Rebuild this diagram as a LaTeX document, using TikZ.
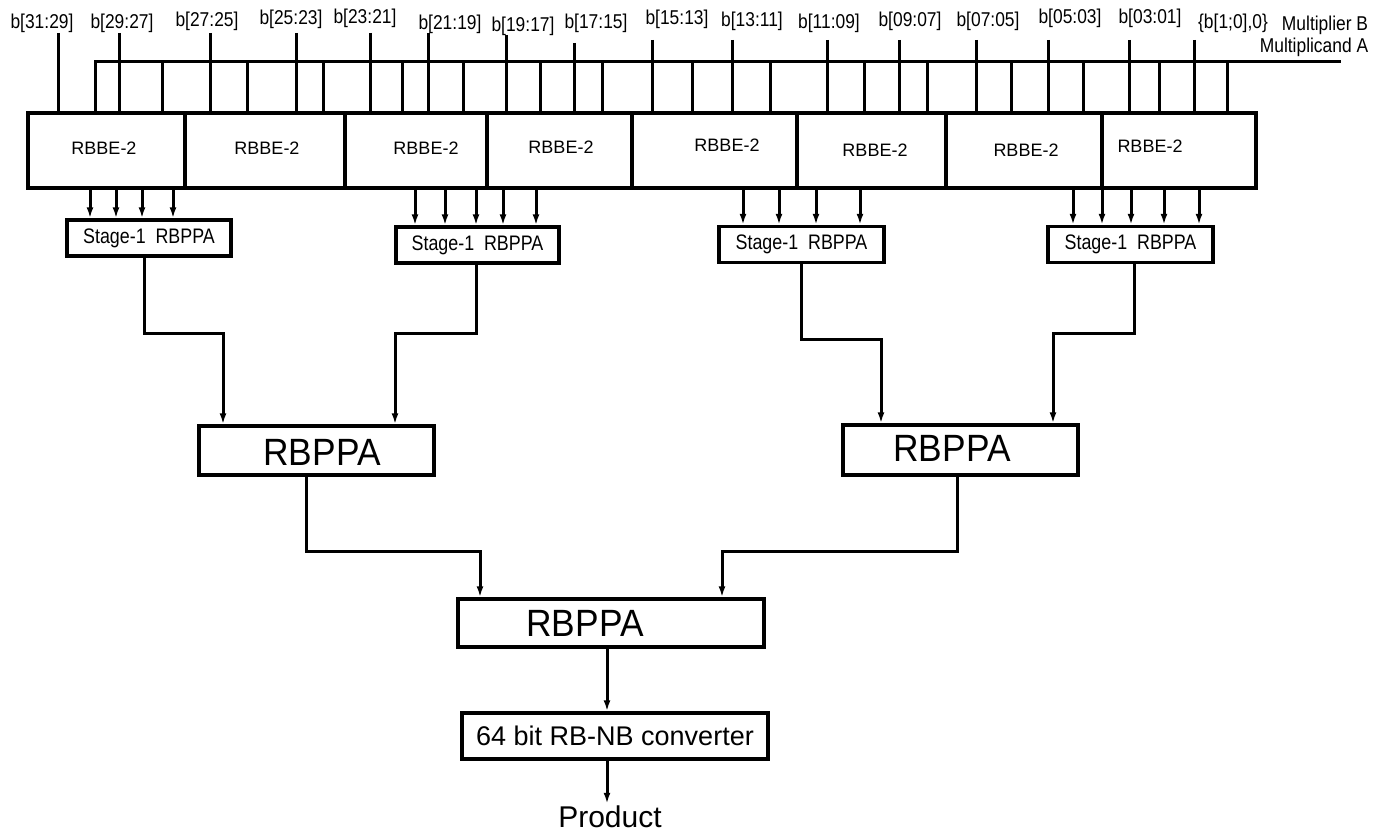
\documentclass[tikz,border=0pt]{standalone}
\usepackage{fontspec}
\setmainfont{Liberation Sans}
\newfontfamily\condsf[FakeStretch=0.87]{Liberation Sans}
\newfontfamily\stagesf[FakeStretch=0.85]{Liberation Sans}
\newfontfamily\bigsf[FakeStretch=0.93]{Liberation Sans}
\usetikzlibrary{arrows.meta}
\begin{document}
\begin{tikzpicture}[x=1pt,y=-1pt,line width=3pt,
  wire/.style={draw,line width=3pt},
  arr/.style={draw,line width=3pt,-{Latex[length=11pt,width=7pt]}},
  blk/.style={draw,line width=3.4pt,inner sep=0pt,rectangle},
  blab/.style={font=\condsf\fontsize{20}{24}\selectfont,anchor=base,inner sep=0pt},
  ebox/.style={blk,minimum height=75pt},
  etxt/.style={font=\fontsize{18}{22}\selectfont,inner sep=0pt},
  sbox/.style={blk,minimum width=164pt,minimum height=36pt,font=\stagesf\fontsize{21}{25}\selectfont},
  rbox/.style={blk,minimum height=49pt},
  rtxt/.style={font=\bigsf\fontsize{38}{44}\selectfont,inner sep=0pt},
  cbox/.style={blk,minimum width=306pt,minimum height=46pt,font=\fontsize{27}{32}\selectfont},
  ptxt/.style={font=\fontsize{30}{36}\selectfont,inner sep=0pt,anchor=base}
]
\useasboundingbox (0,0) rectangle (1387,832);

% RBBE-2 row
\foreach \c/\w/\tx/\ty [count=\i] in {106.5/157/104/148, 265/160/267/148, 416/142/426/148, 559.5/145/561/147, 714.5/165/727/145, 871.5/149/875/150, 1024/156/1026/150, 1179/154/1150/146}{
  \node[ebox,minimum width=\w pt] (e\i) at (\c,150.5) {};
  \node[etxt] (et\i) at (\tx,\ty) {RBBE-2};
}

% multiplier bit labels
\foreach \x/\y/\t [count=\i] in {42/29/b[31:29], 122/29/b[29:27], 207/27/b[27:25], 291/25/b[25:23], 365/24/b[23:21], 450/30/b[21:19], 523/32/b[19:17], 596/29/b[17:15], 677/25/b[15:13], 752/27/b[13:11], 829/29/b[11:09], 910/27/b[09:07], 988/27/b[07:05], 1070/24/b[05:03], 1150/24/b[03:01]}{
  \node[blab] (lb\i) at (\x,\y) {\t};
}
\node[blab] (lb16) at (1233,29) {\{b[1;0],0\}};
\node[blab] (mulb) at (1325,31) {Multiplier B};
\node[blab] (mula) at (1314,53) {Multiplicand A};

% multiplicand bus
\draw[wire] (95,0 |- e1.north) -- (95,62) -- (1341,62);

% B lines and A taps into each RBBE-2
\foreach \i/\ba/\bb/\ab/\ta/\tb in {1/58/119/162/33/33, 2/210/296/323/33/33, 3/370/428/463/33/33, 4/506/574/602/35/43, 5/652/732/770/40/40, 6/827/899/927/40/40, 7/976/1048/1083/40/40, 8/1129/1194/1227/40/40}{
  \coordinate (bta\i) at (\ba,\ta);
  \coordinate (btb\i) at (\bb,\tb);
  \draw[wire] (bta\i) -- (\ba,0 |- e\i.north);
  \draw[wire] (btb\i) -- (\bb,0 |- e\i.north);
  \draw[wire] (\ab,62) -- (\ab,0 |- e\i.north);
}
\foreach \i/\aa in {2/247,3/402,4/540,5/692,6/864,7/1011,8/1159}{
  \draw[wire] (\aa,62) -- (\aa,0 |- e\i.north);
}

% stage-1 adders
\node[sbox] (s1) at (149,238) {Stage-1~~RBPPA};
\node[sbox,minimum width=163pt] (s2) at (477.5,245) {Stage-1~~RBPPA};
\node[sbox,minimum width=165pt] (s3) at (801.5,244.5) {Stage-1~~RBPPA};
\node[sbox,minimum width=165pt] (s4) at (1130.5,244.5) {Stage-1~~RBPPA};

\foreach \x in {90,116,142,173} \draw[arr] (\x,0 |- e1.south) -- (\x,0 |- s1.north);
\foreach \x in {415,445,476} \draw[arr] (\x,0 |- e3.south) -- (\x,0 |- s2.north);
\foreach \x in {503,536} \draw[arr] (\x,0 |- e4.south) -- (\x,0 |- s2.north);
\foreach \x in {743,779} \draw[arr] (\x,0 |- e5.south) -- (\x,0 |- s3.north);
\foreach \x in {816,860} \draw[arr] (\x,0 |- e6.south) -- (\x,0 |- s3.north);
\foreach \x in {1073,1102} \draw[arr] (\x,0 |- e7.south) -- (\x,0 |- s4.north);
\foreach \x in {1131,1164,1199} \draw[arr] (\x,0 |- e8.south) -- (\x,0 |- s4.north);

% second level
\node[rbox,minimum width=235pt] (r1) at (316.5,450.5) {};
\node[rtxt] (r1t) at (322,452) {RBPPA};
\node[rbox,minimum width=235pt,minimum height=50pt] (r2) at (960.5,450) {};
\node[rtxt] (r2t) at (952,448) {RBPPA};

\draw[arr] (144,0 |- s1.south) |- (223,333) -- (223,0 |- r1.north);
\draw[arr] (476,0 |- s2.south) |- (395,333) -- (395,0 |- r1.north);
\draw[arr] (801,0 |- s3.south) |- (881,339) -- (881,0 |- r2.north);
\draw[arr] (1134,0 |- s4.south) |- (1053,333) -- (1053,0 |- r2.north);

% third level
\node[rbox,minimum width=306pt,minimum height=48pt] (r3) at (611,623) {};
\node[rtxt] (r3t) at (585,623) {RBPPA};
\draw[arr] (306,0 |- r1.south) |- (480,551) -- (480,0 |- r3.north);
\draw[arr] (957,0 |- r2.south) |- (722,551) -- (722,0 |- r3.north);

% converter and product
\node[cbox] (cv) at (615,736) {64 bit RB-NB converter};
\node[ptxt] (prod) at (610,827) {Product};
\draw[arr] (607,0 |- r3.south) -- (607,0 |- cv.north);
\draw[arr] (607,0 |- cv.south) -- (607,0 |- prod.north);
\end{tikzpicture}
\end{document}
